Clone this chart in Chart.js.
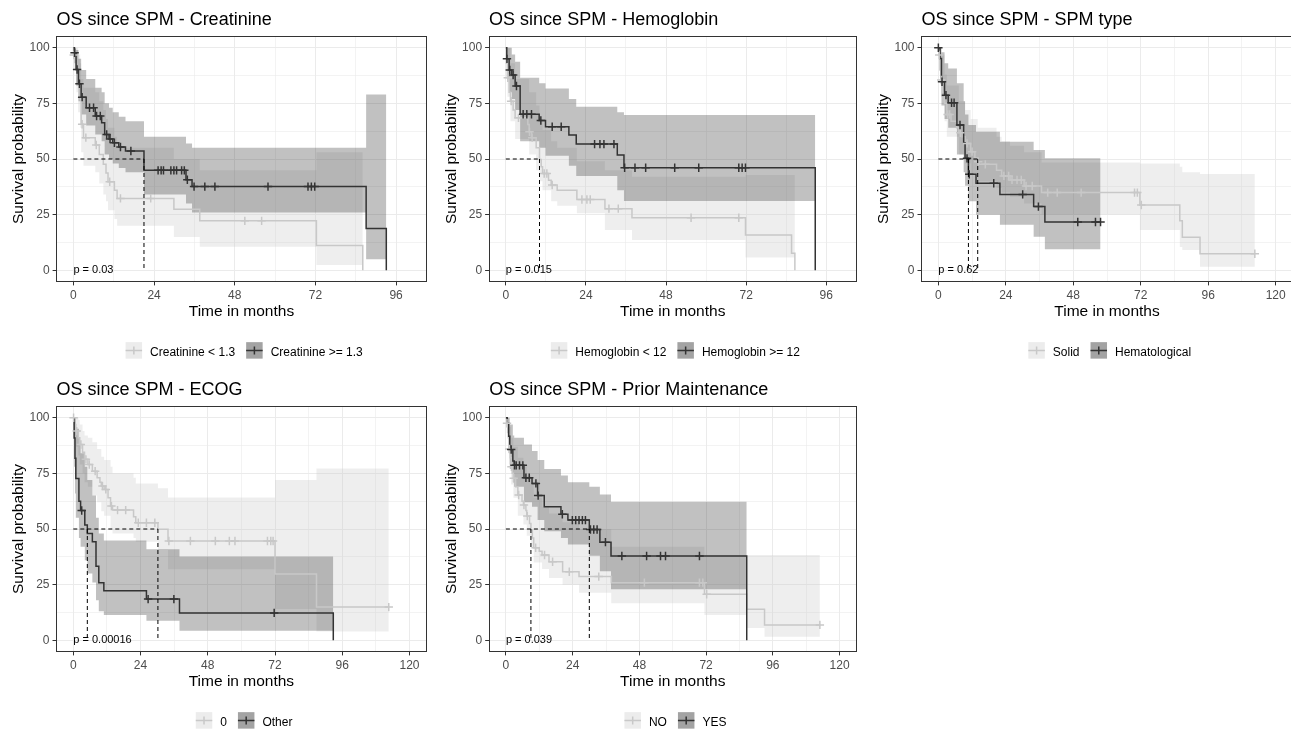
<!DOCTYPE html>
<html><head><meta charset="utf-8">
<script src="https://cdn.jsdelivr.net/npm/chart.js@4.4.1/dist/chart.umd.min.js"></script>
<style>
html,body{margin:0;padding:0;background:#fff;width:1291px;height:731px;overflow:hidden;position:relative}
canvas{position:absolute}
</style></head><body>
<script>
// ---------- DATA ----------
const titles = ['OS since SPM - Creatinine','OS since SPM - Hemoglobin','OS since SPM - SPM type','OS since SPM - ECOG','OS since SPM - Prior Maintenance'];
const p1_labels = ['Creatinine < 1.3','Creatinine >= 1.3'];
const p2_labels = ['Hemoglobin < 12','Hemoglobin >= 12'];
const p3_labels = ['Solid','Hematological'];
const p4_labels = ['0','Other'];
const p5_labels = ['NO','YES'];
const pvals = ['p = 0.03','p = 0.015','p = 0.62','p = 0.00016','p = 0.039'];
const xTicks100 = [0,24,48,72,96];
const xTicks120 = [0,24,48,72,96,120];
const yTicks = [0,25,50,75,100];

// Panel 1 - Creatinine
const p1a_t = [0,0.05,0.9,1.4,2.0,2.3,3.0,6.5,7.7,8.9,9.7,10.3,12.2,13.0,29.9,37.6,72.3,86.1];
const p1a_s = [100,96.7,90,83.3,76.7,65.6,59.6,56.3,52,47.6,43.7,39.8,36,32.3,27.4,22.2,11.1,0];
const p1a_c = [0.1,2.6,3.7,6.8,10.8,14.0,23.0,51.0,56.0];
const p1a_bt = [0,0.05,0.9,1.4,2.0,2.3,3.0,6.5,7.7,8.9,9.7,10.3,12.2,13.0,29.9,37.6,72.3,86.1];
const p1a_up = [100,100,100,97,93,86,82,80,76,72,68,64,60,55,50,45,53,53];
const p1a_lo = [100,90,80,71,64,53,47,44,39,34,31,27,23,20,15,10.6,2.4,2.4];
const p1b_t = [0,0.3,0.8,1.5,2.3,3.8,6.5,8.4,9.3,10.6,11.7,13.5,15.5,21.0,33.5,35.3,87.1,93.1];
const p1b_s = [100,97.7,90.2,83.8,77.8,73.0,69.3,66.3,61.0,59.0,57.3,55.4,53.6,44.9,40.7,37.6,18.8,0];
const p1b_c = [0.35,1.1,1.8,2.6,4.8,6.0,6.9,8.0,9.9,10.9,12.2,14.0,17.1,25.2,26.1,26.8,29.0,29.9,30.7,32.2,33.0,33.9,35.9,39.1,42.1,57.9,69.8,70.8,71.8];
const p1b_up = [100,100,99,95,90,86,82,80,75,73,71,69,67,60,57,55,79,79];
const p1b_lo = [100,93,83,76,70,65,61,58,52,50,48,46,44,34,30,26,5,5];
const p1_med = [21.0];

// Panel 2 - Hemoglobin
const p2a_t = [0,0.2,0.5,1.0,1.4,2.2,2.8,6.6,7.0,7.7,9.1,10.1,10.6,11.0,12.8,13.6,15.4,21.3,29.7,37.8,71.8,85.6,86.6];
const p2a_s = [100,93,86.5,80,76,72,68.5,65.5,62.2,59.6,55,49.8,46.5,43.5,40.5,38.3,36.0,31.8,27.7,23.6,15.9,7.6,0];
const p2a_c = [0.6,1.6,3.8,7.1,7.9,11.5,12.3,13.9,22.8,24.3,25.3,30.9,33.7,55.5,69.8];
const p2a_bt = [0,0.5,1.4,2.8,7.0,9.1,10.1,11.0,13.6,15.4,21.3,29.7,37.8,71.8,85.6,86.6];
const p2a_up = [100,100,93,86,80,74,68,63,58,55,49,45,42,42.8,42.8,42.8];
const p2a_lo = [100,78,67,59,52,45,40,36,31,29,25.6,18.1,13.6,5.7,5.7,5.7];
const p2b_t = [0,0.3,1.0,1.8,2.8,4.3,10.0,11.9,18.9,21.1,33.4,35.4,92.7];
const p2b_s = [100,95,90,87.7,82.8,70.1,67.3,64.5,60.8,56.7,51.8,46.1,0];
const p2b_c = [0.35,1.2,2.2,3.2,5.2,6.3,7.7,10.5,13.9,16.6,26.6,28.2,29.4,32.4,35.6,38.7,41.9,50.6,57.8,69.8,70.8,71.8];
const p2b_up = [100,100,100,97,93.7,86.5,84,81.7,77,73.5,71,69.8,69.8];
const p2b_lo = [100,86,80,77,72,58,55,51.5,47,42.4,36,31.1,31.1];
const p2_med = [10.1];

// Panel 3 - SPM type
const p3a_t = [0,0.2,0.6,0.9,1.5,2.2,3.0,4.5,6.5,7.3,8.5,9.5,11.5,13.0,14.0,14.5,20.7,22.5,25.5,30.5,36.7,71.7,85.9,86.8,93.1,112.6];
const p3a_s = [100,96.7,90,85.5,80,75,70,67,64,61.8,60,57,53.3,50.5,48.8,47.6,45,42.4,40.6,37.9,34.9,29.3,22.2,14.8,7.4,7.4];
const p3a_c = [0.3,1.0,3.3,4.0,7.8,10.2,12.0,14.2,16.7,23.3,25.0,26.2,28.0,29.5,31.2,33.4,38.9,42.3,50.8,69.8,70.8,72.2,112.6];
const p3a_bt = [0,0.2,0.9,2.2,3.0,7.3,9.5,11.5,14.0,20.7,22.5,25.5,30.5,36.7,71.7,85.9,86.8,93.1,112.6];
const p3a_up = [100,100,97,88,83,76,72,68,64,60,58,56,53,48.4,48,46.5,44,43.3,43.3];
const p3a_lo = [100,90,78,67,60,52,48,43,40,37,35,33,30,25.1,18.1,10.5,9.1,1.6,1.6];
const p3b_t = [0,0.6,1.1,2.2,3.5,6.6,9.0,9.5,10.7,13.4,21.9,33.9,37.9,57.7];
const p3b_s = [100,95.2,84.7,78.7,75.3,65.3,57.3,50.3,43.1,39.1,34.1,28.6,21.7,21.7];
const p3b_c = [0,1.3,2.7,4.7,5.6,7.7,10.2,11.0,19.7,30.0,35.6,49.6,55.9,57.7];
const p3b_up = [100,100,98,93,90.7,84,76,70,65.3,62.3,57.8,54,50.3,50.3];
const p3b_lo = [100,87,74,68,64,52,44,38,31,24.9,20.4,15.1,9.4,9.4];
const p3_med = [10.7,14.0];

// Panel 4 - ECOG
const p4a_t = [0,0.4,0.9,1.8,2.3,3.3,4.0,5.2,6.8,8.5,9.5,10.0,11.0,12.4,13.3,14.0,21.5,22.3,30.2,33.8,72.0,86.8,112.6];
const p4a_s = [100,97,94,91,88,84.5,81.3,79,76,73,71,69.3,67.8,64,60.3,58.5,55.5,52.8,49.9,44.6,29.8,14.9,14.9];
const p4a_c = [0.1,1.2,2.7,4.5,5.7,7.8,10.4,11.6,13.6,15.8,18.7,23.2,26.1,29.1,34.1,41.8,50.7,55.7,57.7,69.3,70.5,71.3,112.6];
const p4a_bt = [0,0.4,0.9,1.8,2.3,3.3,4.0,5.2,6.8,8.5,10.0,11.0,13.3,14.0,21.5,22.3,30.2,33.8,72.0,86.8,112.6];
const p4a_up = [100,100,100,99,97,94,92,91,89,86,82.5,81,78,75,73,70.5,68.3,64.1,72,77.2,77.2];
const p4a_lo = [100,92,87,83,79,75,71,69,65,62,58,56,50,48,46,44.3,40.6,31.9,14,3.9,3.9];
const p4b_t = [0,0.3,0.6,0.9,2.0,2.6,4.1,5.0,6.8,8.1,9.1,10.9,26.1,37.9,92.8];
const p4b_s = [100,90.9,81.8,72.7,62.5,58.3,51.8,48,44.3,33.3,25.9,22.2,18.5,12.3,0];
const p4b_c = [3.0,26.7,35.9,71.7];
const p4b_up = [100,100,100,95,88,84,78,72,65,55,48,44.8,40.9,37.6,37.6];
const p4b_lo = [100,78,66,55,46,42,36,30,26,18,13,11.4,8.8,4.3,4.3];
const p4_med = [5.0,30.2];

// Panel 5 - Prior Maintenance
const p5a_t = [0,0.3,0.9,1.1,1.6,1.9,2.3,2.7,3.5,4.3,5.8,6.3,7.2,7.5,8.5,9.0,9.5,10.0,12.0,13.0,15.5,20.4,26.3,37.9,71.4,86.6,93.0,112.9];
const p5a_s = [100,97.5,91,86,82,78,75,72.8,69,65.3,62.5,60.8,58.3,55.8,52.5,49.5,46,41.6,40,38.3,35.3,30.8,28.6,25.9,20.7,13.9,6.9,6.9];
const p5a_c = [0.4,1.2,2.0,2.8,4.6,6.5,7.7,10.7,13.9,16.8,22.8,33.4,49.8,69.6,70.8,72.2,112.9];
const p5a_bt = [0,0.3,1.1,1.9,2.7,4.3,6.3,7.5,9.0,10.0,13.0,15.5,20.4,26.3,37.9,71.4,86.6,93.0,112.9];
const p5a_up = [100,100,96,91,87,82,78,74,70,64,60,57,53,50,42,38.3,38.3,38.3,38.3];
const p5a_lo = [100,93,79,70,64,56,52,47,42,35,32,28,24.9,21.4,16.6,11.4,5.5,1.6,1.6];
const p5b_t = [0,0.5,1.0,1.4,2.5,3.0,6.5,9.4,11.4,13.8,19.8,22.3,30.0,33.8,37.8,86.6];
const p5b_s = [100,97.5,91.7,85.7,80.5,78.6,73,70.5,65,60,56.6,54,49.8,44.1,37.9,0];
const p5b_c = [1.9,3.1,3.7,4.9,6.1,7.2,8.4,10.8,11.6,20.3,23.9,25.1,26.3,27.5,28.6,30.4,31.6,32.8,35.8,41.7,50.6,55.6,57.4,69.6];
const p5b_up = [100,100,100,97,92,91,88,85,81,77,74,71,69,65.5,62.3,62.3];
const p5b_lo = [100,93,84,77,71,69,62,60,54,49,46,43,38,31,22.9,22.9];
const p5_med = [9.0,30.0];

// ---------- STYLE ----------
const FONT = '"Liberation Sans", Arial, Helvetica, sans-serif';
const LIGHT = '#C8C8C8', DARK = '#333333';
const LIGHT_BAND = 'rgba(200,200,200,0.3)', DARK_BAND = 'rgba(51,51,51,0.3)';
const LIGHT_KEY = '#ECECEC', DARK_KEY = '#A3A3A3';
Chart.defaults.font.family = FONT;

const panels = [
  {title:titles[0], labels:p1_labels, pval:pvals[0], xr:100, xt:xTicks100, med:p1_med,
   a:{t:p1a_t,s:p1a_s,c:p1a_c,bt:p1a_bt,up:p1a_up,lo:p1a_lo}, b:{t:p1b_t,s:p1b_s,c:p1b_c,bt:p1b_t,up:p1b_up,lo:p1b_lo},
   cx:0, cy:0, cw:432, ch:370, A:{l:56.6, t:36.6, r:427.9, b:281.4}},
  {title:titles[1], labels:p2_labels, pval:pvals[1], xr:100, xt:xTicks100, med:p2_med,
   a:{t:p2a_t,s:p2a_s,c:p2a_c,bt:p2a_bt,up:p2a_up,lo:p2a_lo}, b:{t:p2b_t,s:p2b_s,c:p2b_c,bt:p2b_t,up:p2b_up,lo:p2b_lo},
   cx:432, cy:0, cw:430, ch:370, A:{l:57.1, t:36.6, r:428.4, b:281.4}},
  {title:titles[2], labels:p3_labels, pval:pvals[2], xr:120, xt:xTicks120, med:p3_med,
   a:{t:p3a_t,s:p3a_s,c:p3a_c,bt:p3a_bt,up:p3a_up,lo:p3a_lo}, b:{t:p3b_t,s:p3b_s,c:p3b_c,bt:p3b_t,up:p3b_up,lo:p3b_lo},
   cx:862, cy:0, cw:440, ch:370, A:{l:59.5, t:36.6, r:430.5, b:281.4}},
  {title:titles[3], labels:p4_labels, pval:pvals[3], xr:120, xt:xTicks120, med:p4_med,
   a:{t:p4a_t,s:p4a_s,c:p4a_c,bt:p4a_bt,up:p4a_up,lo:p4a_lo}, b:{t:p4b_t,s:p4b_s,c:p4b_c,bt:p4b_t,up:p4b_up,lo:p4b_lo},
   cx:0, cy:370, cw:432, ch:361, A:{l:56.5, t:36.6, r:427.9, b:281.4}},
  {title:titles[4], labels:p5_labels, pval:pvals[4], xr:120, xt:xTicks120, med:p5_med,
   a:{t:p5a_t,s:p5a_s,c:p5a_c,bt:p5a_bt,up:p5a_up,lo:p5a_lo}, b:{t:p5b_t,s:p5b_s,c:p5b_c,bt:p5b_t,up:p5b_up,lo:p5b_lo},
   cx:432, cy:370, cw:430, ch:361, A:{l:57.2, t:36.6, r:427.6, b:281.4}}
];

function pts(t, v){ return t.map((x,i)=>({x:x, y:v[i]})); }
function survAt(t, s, x){ let v = s[0]; for (let i=0;i<t.length;i++){ if (t[i] <= x) v = s[i]; } return v; }
function mids(a){ const r=[]; for(let i=0;i<a.length-1;i++) r.push((a[i]+a[i+1])/2); return r; }

function decoPlugin(p){
  return {
    id:'deco',
    afterDatasetsDraw(chart){
      const ctx = chart.ctx, xs = chart.scales.x, ys = chart.scales.y;
      ctx.save();
      ctx.fillStyle = '#000';
      ctx.font = '11px ' + FONT;
      ctx.textAlign = 'left'; ctx.textBaseline = 'middle';
      ctx.fillText(p.pval, xs.getPixelForValue(0), ys.getPixelForValue(0));
      ctx.restore();
    },
    afterDraw(chart){
      const ctx = chart.ctx, a = chart.chartArea;
      ctx.save();
      ctx.strokeStyle = '#333333'; ctx.lineWidth = 1;
      const L = Math.floor(a.left)+0.5, T = Math.floor(a.top)+0.5, R = Math.floor(a.right)+0.5, B = Math.floor(a.bottom)+0.5;
      ctx.strokeRect(L, T, R-L, B-T);
      ctx.fillStyle = '#000';
      ctx.font = '18px ' + FONT;
      ctx.textAlign = 'left'; ctx.textBaseline = 'alphabetic';
      ctx.fillText(p.title, a.left, 25.3);
      ctx.font = '12px ' + FONT;
      const K = 16.5, G = 8, IG = 11;
      const w1 = ctx.measureText(p.labels[0]).width, w2 = ctx.measureText(p.labels[1]).width;
      const total = K+G+w1+IG+K+G+w2;
      let x = (a.left+a.right)/2 + 2.7 - total/2;
      const yc = 350.4;
      const key = (x0, fill, col) => {
        ctx.fillStyle = fill; ctx.fillRect(x0, yc-K/2, K, K);
        ctx.strokeStyle = col; ctx.lineWidth = 1.5;
        ctx.beginPath();
        ctx.moveTo(x0, yc); ctx.lineTo(x0+K, yc);
        ctx.moveTo(x0+K/2, yc-4); ctx.lineTo(x0+K/2, yc+4);
        ctx.stroke();
      };
      key(x, LIGHT_KEY, LIGHT); x += K+G;
      ctx.fillStyle = '#000'; ctx.textBaseline = 'alphabetic';
      ctx.fillText(p.labels[0], x, 356); x += w1+IG;
      key(x, DARK_KEY, DARK); x += K+G;
      ctx.fillStyle = '#000';
      ctx.fillText(p.labels[1], x, 356);
      ctx.restore();
    }
  };
}

function makeChart(p){
  const cv = document.createElement('canvas');
  cv.width = p.cw; cv.height = p.ch;
  cv.style.left = p.cx+'px'; cv.style.top = p.cy+'px';
  cv.style.width = p.cw+'px'; cv.style.height = p.ch+'px';
  document.body.appendChild(cv);
  const A = p.A, XH = 43.3;
  const xMaj = p.xt, xAll = p.xt.concat(mids(p.xt)).sort((u,v)=>u-v);
  const yAll = yTicks.concat(mids(yTicks)).sort((u,v)=>u-v);
  const ds = [];
  const groups = [[p.a, LIGHT, LIGHT_BAND, 100], [p.b, DARK, DARK_BAND, 90]];
  for (const [g, col, band, ord] of groups){
    ds.push({data:pts(g.bt,g.up), stepped:true, borderWidth:0, borderColor:'rgba(0,0,0,0)', pointRadius:0, fill:'+1', backgroundColor:band, order:ord});
    ds.push({data:pts(g.bt,g.lo), stepped:true, borderWidth:0, borderColor:'rgba(0,0,0,0)', pointRadius:0, fill:false, order:ord});
  }
  for (const [g, col, band, ord] of groups){
    ds.push({data:pts(g.t,g.s), stepped:true, borderColor:col, borderWidth:1.5, pointRadius:0, fill:false, order:ord-50});
    ds.push({data:g.c.map(x=>({x:x, y:survAt(g.t,g.s,x)})), showLine:false, pointStyle:'cross', pointRadius:4.2, pointBorderWidth:1.5,
             pointBorderColor:col, borderColor:col, backgroundColor:col, fill:false, order:ord-80});
  }
  const mx = Math.max(...p.med);
  const dashed = {borderColor:'#000', borderWidth:1, borderDash:[4,3], pointRadius:0, fill:false, order:0};
  ds.push(Object.assign({data:[{x:0,y:50},{x:mx,y:50}]}, dashed));
  p.med.forEach(m => ds.push(Object.assign({data:[{x:m,y:50},{x:m,y:0}]}, dashed)));

  const isMaj = (arr, v) => arr.includes(v);
  const chart = new Chart(cv, {
    type:'line',
    data:{datasets:ds},
    options:{
      responsive:false, animation:false, devicePixelRatio:1, events:[],
      layout:{padding:{left:0, top:A.t, right:p.cw-A.r, bottom:p.ch-A.b-XH}},
      plugins:{legend:{display:false}, tooltip:{enabled:false}, title:{display:false}},
      scales:{
        x:{type:'linear', min:-0.05*p.xr, max:1.05*p.xr,
           afterBuildTicks:s=>{ s.ticks = xAll.map(v=>({value:v})); },
           afterFit:s=>{ s.height = XH; },
           ticks:{autoSkip:false, maxRotation:0, padding:3, color:'#4D4D4D', font:{size:12}, callback:v=>isMaj(xMaj,v)?String(v):''},
           grid:{color:'#EBEBEB', lineWidth:c=>isMaj(xMaj,c.tick.value)?1:0.6, tickColor:c=>isMaj(xMaj,c.tick.value)?'#333333':'rgba(0,0,0,0)', tickLength:4, tickWidth:1},
           border:{display:false},
           title:{display:true, text:'Time in months', color:'#000', font:{size:15.5}, padding:{top:0,bottom:4}}},
        y:{type:'linear', min:-5, max:105,
           afterBuildTicks:s=>{ s.ticks = yAll.map(v=>({value:v})); },
           afterFit:s=>{ s.width = A.l; },
           ticks:{autoSkip:false, padding:3, color:'#4D4D4D', font:{size:12}, callback:v=>isMaj(yTicks,v)?String(v):''},
           grid:{color:'#EBEBEB', lineWidth:c=>isMaj(yTicks,c.tick.value)?1:0.6, tickColor:c=>isMaj(yTicks,c.tick.value)?'#333333':'rgba(0,0,0,0)', tickLength:4, tickWidth:1},
           border:{display:false},
           title:{display:true, text:'Survival probability', color:'#000', font:{size:15.5}, padding:{top:Math.max(0,A.l-37.5-9.3), bottom:0}}}
      }
    },
    plugins:[decoPlugin(p)]
  });
  const ca = chart.chartArea;
  const dx = A.l - ca.left, dy = A.t - ca.top;
  if (Math.abs(dx) > 0.3 || Math.abs(dy) > 0.3){
    cv.style.left = (p.cx + dx)+'px'; cv.style.top = (p.cy + dy)+'px';
  }
}
panels.forEach(makeChart);
</script>
</body></html>
